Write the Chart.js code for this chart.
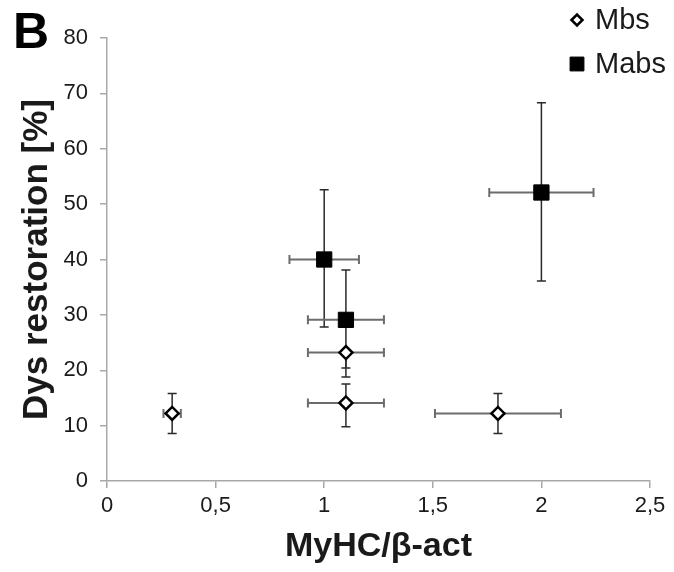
<!DOCTYPE html>
<html><head><meta charset="utf-8">
<script src="https://cdn.jsdelivr.net/npm/chart.js@4.4.1/dist/chart.umd.min.js"></script>
<style>html,body{margin:0;padding:0;background:#fff;}#wrap{width:674px;height:572px;position:relative;}</style>
</head><body><div id="wrap"><canvas id="c" width="674" height="572"></canvas></div>
<script>
const seriesNames = ['Mbs', 'Mabs'];
const mbsX = [0.3, 1.1, 1.1, 1.8];
const mbsY = [12.2, 23.2, 14.1, 12.2];
const mbsXErr = [0.04, 0.175, 0.175, 0.29];
const mbsYErrPlus = [3.6, 0, 3.4, 3.6];
const mbsYErrMinus = [3.6, 2.8, 4.3, 3.6];
const mabsX = [1.0, 1.1, 2.0];
const mabsY = [40.0, 29.1, 52.1];
const mabsXErr = [0.16, 0.175, 0.24];
const mabsYErrPlus = [12.6, 9.0, 16.2];
const mabsYErrMinus = [12.2, 10.3, 16.0];
const xTickValues = [0, 0.5, 1, 1.5, 2, 2.5];
const xTickLabels = ['0', '0,5', '1', '1,5', '2', '2,5'];
const yTickValues = [0, 10, 20, 30, 40, 50, 60, 70, 80];
const yTickLabels = ['0', '10', '20', '30', '40', '50', '60', '70', '80'];
const xTitle = 'MyHC/β-act';
const yTitle = 'Dys restoration [%]';
const panelLabel = 'B';

const FONT = "'Liberation Sans', Arial, sans-serif";
const TXT = '#1a1a1a';
const AXIS = '#a8a8a8';

function build(xs, ys, xe, yp, ym) {
  return xs.map((x, i) => ({ x: x, y: ys[i], xErr: xe[i], yPlus: yp[i], yMinus: ym[i] }));
}

const errorBars = {
  id: 'errorBars',
  beforeDatasetsDraw(chart) {
    const ctx = chart.ctx, xs = chart.scales.x, ysc = chart.scales.y;
    ctx.save();
    chart.data.datasets.forEach(ds => {
      ds.data.forEach(p => {
        const px = xs.getPixelForValue(p.x), py = ysc.getPixelForValue(p.y);
        const cap = 4.5;
        if (p.xErr) {
          const l = xs.getPixelForValue(p.x - p.xErr), r = xs.getPixelForValue(p.x + p.xErr);
          ctx.strokeStyle = '#6c6c6c'; ctx.lineWidth = 2;
          ctx.beginPath();
          ctx.moveTo(l, py); ctx.lineTo(r, py);
          ctx.moveTo(l, py - cap); ctx.lineTo(l, py + cap);
          ctx.moveTo(r, py - cap); ctx.lineTo(r, py + cap);
          ctx.stroke();
        }
        ctx.strokeStyle = '#2a2a2a'; ctx.lineWidth = 1.5;
        ctx.beginPath();
        if (p.yPlus) {
          const t = ysc.getPixelForValue(p.y + p.yPlus);
          ctx.moveTo(px, py); ctx.lineTo(px, t);
          ctx.moveTo(px - cap, t); ctx.lineTo(px + cap, t);
        }
        if (p.yMinus) {
          const b = ysc.getPixelForValue(p.y - p.yMinus);
          ctx.moveTo(px, py); ctx.lineTo(px, b);
          ctx.moveTo(px - cap, b); ctx.lineTo(px + cap, b);
        }
        ctx.stroke();
      });
    });
    ctx.restore();
  }
};

const extras = {
  id: 'extras',
  afterDraw(chart) {
    const ctx = chart.ctx;
    ctx.save();
    ctx.fillStyle = '#000';
    ctx.font = 'bold 50px ' + FONT;
    ctx.textBaseline = 'middle';
    ctx.textAlign = 'left';
    ctx.fillText(panelLabel, 13, 34);
    // legend
    const ds = chart.data.datasets;
    const rows = [20, 64];
    ds.forEach((d, i) => {
      const cy = rows[i];
      const opts = {
        pointStyle: d.pointStyle,
        radius: i === 0 ? 5.5 : 9.8,
        borderWidth: d.borderWidth,
        rotation: 0
      };
      ctx.fillStyle = d.backgroundColor;
      ctx.strokeStyle = d.borderColor;
      ctx.lineWidth = d.borderWidth;
      Chart.helpers.drawPoint(ctx, opts, 577, cy);
      ctx.fillStyle = TXT;
      ctx.font = '29px ' + FONT;
      ctx.textBaseline = 'middle';
      ctx.fillText(d.label, 595, cy + 1);
    });
    ctx.restore();
  }
};

new Chart(document.getElementById('c'), {
  type: 'scatter',
  data: {
    datasets: [
      {
        label: seriesNames[0],
        data: build(mbsX, mbsY, mbsXErr, mbsYErrPlus, mbsYErrMinus),
        pointStyle: 'rectRot', radius: 6.5, hoverRadius: 6.5,
        backgroundColor: '#ffffff', borderColor: '#000000', borderWidth: 2.5
      },
      {
        label: seriesNames[1],
        data: build(mabsX, mabsY, mabsXErr, mabsYErrPlus, mabsYErrMinus),
        pointStyle: 'rect', radius: 10.8, hoverRadius: 10.8,
        backgroundColor: '#000000', borderColor: '#000000', borderWidth: 1
      }
    ]
  },
  options: {
    responsive: false,
    animation: false,
    devicePixelRatio: 1,
    layout: { padding: { top: 38, right: 24, left: 0, bottom: 0 } },
    plugins: { legend: { display: false }, tooltip: { enabled: false } },
    scales: {
      x: {
        type: 'linear', min: 0, max: 2.5,
        afterBuildTicks: s => { s.ticks = xTickValues.map(v => ({ value: v })); },
        afterFit: s => { s.height = 91; },
        ticks: {
          callback: (v, i) => xTickLabels[i],
          font: { family: FONT, size: 22 }, color: TXT, padding: 5, maxRotation: 0
        },
        grid: { drawOnChartArea: false, drawTicks: true, tickLength: 7, color: AXIS, lineWidth: 1.5 },
        border: { display: true, color: AXIS, width: 1.5 },
        title: {
          display: true, text: xTitle, color: TXT,
          font: { family: FONT, size: 34, weight: 'bold', lineHeight: 1 },
          padding: { top: 0, bottom: 8 }
        }
      },
      y: {
        type: 'linear', min: 0, max: 80,
        afterBuildTicks: s => { s.ticks = yTickValues.map(v => ({ value: v })); },
        afterFit: s => { s.width = 107; },
        ticks: {
          callback: (v, i) => yTickLabels[i],
          font: { family: FONT, size: 22 }, color: TXT, padding: 12
        },
        grid: { drawOnChartArea: false, drawTicks: true, tickLength: 7, color: AXIS, lineWidth: 1.5 },
        border: { display: true, color: AXIS, width: 1.5 },
        title: {
          display: true, text: yTitle, color: TXT,
          font: { family: FONT, size: 35, weight: 'bold', lineHeight: 1 },
          padding: { top: 20, bottom: 0 }
        }
      }
    }
  },
  plugins: [errorBars, extras]
});
</script></body></html>
